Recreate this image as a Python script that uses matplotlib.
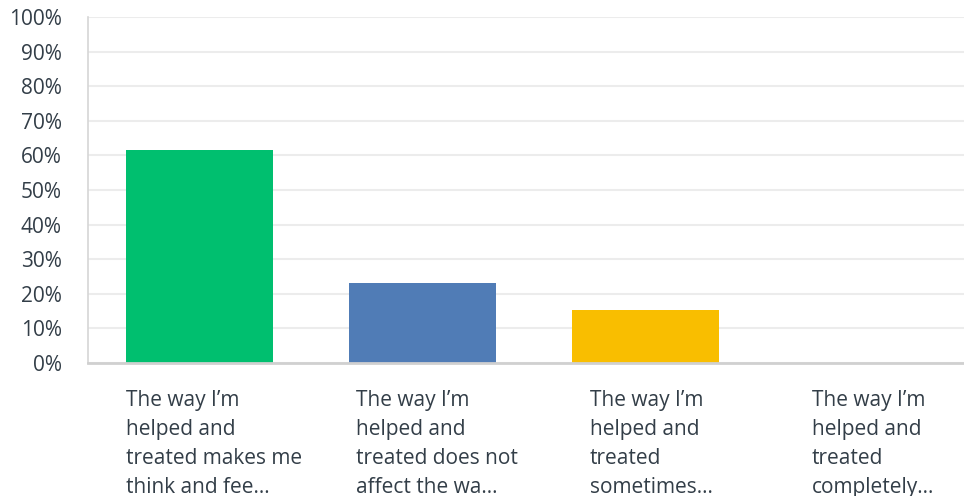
import matplotlib.pyplot as plt
import matplotlib.transforms as mtransforms
import numpy as np

# answer options (truncated as displayed) and share of responses, %
labels = [
    "The way I\u2019m\nhelped and\ntreated makes me\nthink and fee\u2026",
    "The way I\u2019m\nhelped and\ntreated does not\naffect the wa\u2026",
    "The way I\u2019m\nhelped and\ntreated\nsometimes\u2026",
    "The way I\u2019m\nhelped and\ntreated\ncompletely\u2026",
]
percent = [61.54, 23.08, 15.38, 0.0]
colors = ["#00bf6f", "#507cb6", "#f9be00", "#7d3c92"]

# left edge of each label block relative to the bar centre (data units)
label_offsets = [-0.33, -0.298, -0.249, -0.253]

text_color = "#333e48"
plt.rcParams['font.family'] = ['Open Sans', 'DejaVu Sans']

fig = plt.figure(figsize=(9.64, 4.96), dpi=100)
# plot area runs a little past the right edge of the figure
ax = fig.add_axes([88 / 964, 1 - 363 / 496, 892 / 964, 346 / 496])

x = np.arange(len(labels))
ax.bar(x, percent, width=0.655, color=colors, zorder=3)

ax.set_xlim(-0.5, len(labels) - 0.5)
ax.set_ylim(0, 100)
ax.set_yticks(np.arange(0, 101, 10))
ax.set_yticklabels([f"{v}%" for v in range(0, 101, 10)])
ax.tick_params(axis='y', length=0, pad=19, labelsize=15, labelcolor=text_color)
ax.set_xticks([])

ax.grid(axis='y', color='#ececec', linewidth=1.5, zorder=0)
for side in ('top', 'right'):
    ax.spines[side].set_visible(False)
ax.spines['left'].set_color('#d6d6d6')
ax.spines['left'].set_linewidth(1.2)
ax.spines['bottom'].set_color('#d0d0d0')
ax.spines['bottom'].set_linewidth(2)
ax.spines['bottom'].set_zorder(4)

trans = mtransforms.blended_transform_factory(ax.transData, ax.transAxes)
for i, (lab, off) in enumerate(zip(labels, label_offsets)):
    ax.text(i + off, -0.078, lab, transform=trans, ha='left', va='top',
            fontsize=15, color=text_color, linespacing=1.49)

fig.savefig("out.png", dpi=100)
